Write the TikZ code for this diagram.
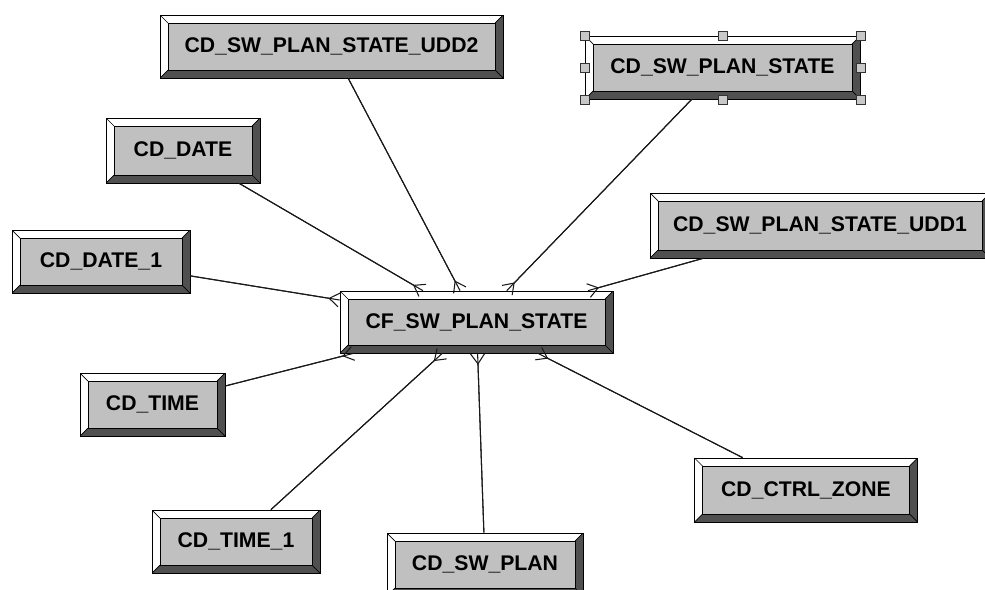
\documentclass[tikz,border=0pt]{standalone}
\usepackage{fontspec}
\setmainfont{Liberation Sans}
\usetikzlibrary{arrows.meta}
\definecolor{boxgray}{RGB}{192,192,192}
\definecolor{beveldark}{RGB}{80,80,80}
\definecolor{handlegray}{RGB}{200,200,200}
\newcommand{\tablefont}{\fontsize{18.1}{20}\selectfont\bfseries}
\newcommand{\bevel}{2.4mm}
\newcommand{\px}{0.3mm}
\tikzset{
    common/.style={draw=black, line width=0.6pt, rectangle, fill=boxgray, font=\tablefont, inner sep=0pt, minimum height=63*\px},
    table/.style={common,
        path picture={
            \path (path picture bounding box.south west) coordinate (sw)
                  (path picture bounding box.north west) coordinate (nw)
                  (path picture bounding box.north east) coordinate (ne)
                  (path picture bounding box.south east) coordinate (se);
            \fill[white] (sw) -- (nw) -- (ne) -- ([xshift=-\bevel, yshift=-\bevel]ne)
                -- ([xshift=\bevel, yshift=-\bevel]nw) -- ([xshift=\bevel, yshift=\bevel]sw) -- cycle;
            \fill[beveldark] (sw) -- (se) -- (ne) -- ([xshift=-\bevel, yshift=-\bevel]ne)
                -- ([xshift=-\bevel, yshift=\bevel]se) -- ([xshift=\bevel, yshift=\bevel]sw) -- cycle;
            \draw[fill=boxgray] ([xshift=\bevel, yshift=\bevel]sw) rectangle ([xshift=-\bevel, yshift=-\bevel]ne);
            \draw (sw) -- ++(\bevel,\bevel) (nw) -- ++(\bevel,-\bevel)
                  (ne) -- ++(-\bevel,-\bevel) (se) -- ++(-\bevel,\bevel);
        }
    },
    link/.style={draw=black!90, line width=0.9pt,
        postaction={draw, -{Straight Barb[reversed, length=3mm, width=4.2mm]}}},
    handle/.style={draw=black!80, line width=0.6pt, fill=handlegray, minimum size=9*\px, inner sep=0pt}
}

\begin{document}
\begin{tikzpicture}[x=\px, y=-\px]
    \useasboundingbox (0,0) rectangle (985,589);

    % tables
    \node[table, minimum width=343*\px] (udd2) at (331.5,46.5) {CD\_SW\_PLAN\_STATE\_UDD2};
    \node[table, minimum width=275*\px] (state) at (722.5,67.5) {CD\_SW\_PLAN\_STATE};
    \node[table, minimum width=154*\px, minimum height=65*\px] (date) at (183,150.5) {CD\_DATE};
    \node[table, minimum width=340*\px, minimum height=65*\px] (udd1) at (820,225.5) {CD\_SW\_PLAN\_STATE\_UDD1};
    \node[table, minimum width=178*\px] (date1) at (101,261.5) {CD\_DATE\_1};
    \node[table, minimum width=273*\px, minimum height=62*\px] (cf) at (476.5,322) {CF\_SW\_PLAN\_STATE};
    \node[table, minimum width=145*\px] (time) at (152.5,404.5) {CD\_TIME};
    \node[table, minimum width=223*\px, minimum height=64*\px] (zone) at (806,490) {CD\_CTRL\_ZONE};
    \node[table, minimum width=168*\px] (time1) at (236,541.5) {CD\_TIME\_1};
    \node[table, minimum width=196*\px] (plan) at (485,564.5) {CD\_SW\_PLAN};

    % links to the fact table
    \foreach \t in {udd2, state, date, udd1, date1, time, zone, time1, plan}
        \draw[link] (\t) -- (cf);

    % selection handles
    \foreach \a in {north west, north, north east, east, south east, south, south west, west}
        \node[handle] (h-\a) at (state.\a) {};
\end{tikzpicture}
\end{document}
